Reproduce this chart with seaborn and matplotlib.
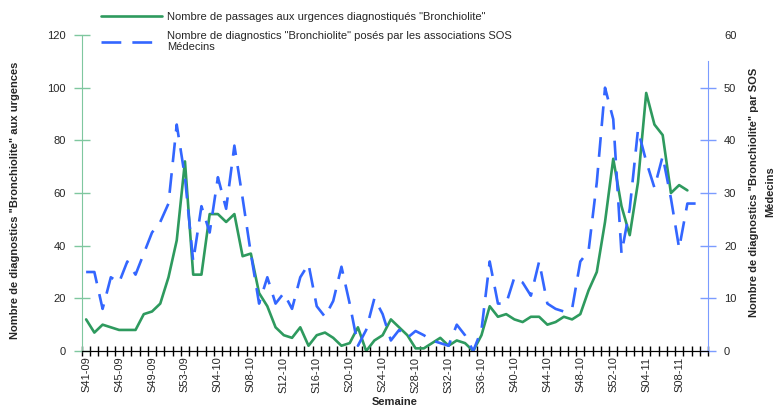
import matplotlib
matplotlib.use('Agg')
import matplotlib.pyplot as plt
import seaborn as sns
from matplotlib.lines import Line2D
from matplotlib.ticker import FixedLocator

# week categories: S41-09 .. S11-11
weeks = ([f'S{w:02d}-09' for w in range(41, 54)] +
         [f'S{w:02d}-10' for w in range(1, 53)] +
         [f'S{w:02d}-11' for w in range(1, 12)])

tick_labels = ['S41-09', 'S45-09', 'S49-09', 'S53-09', 'S04-10', 'S08-10', 'S12-10',
               'S16-10', 'S20-10', 'S24-10', 'S28-10', 'S32-10', 'S36-10', 'S40-10',
               'S44-10', 'S48-10', 'S52-10', 'S04-11', 'S08-11']

# passages aux urgences (left axis)
urgences = [12, 7, 10, 9, 8, 8, 8, 14, 15, 18, 28, 42, 72, 29, 29, 52, 52, 49, 52, 36,
            37, 22, 17, 9, 6, 5, 9, 2, 6, 7, 5, 2, 3, 9, 0, 4, 6, 12, 9, 6,
            1, 1, 3, 5, 2, 4, 3, 0, 6, 17, 13, 14, 12, 11, 13, 13, 10, 11, 13, 12,
            14, 23, 30, 49, 73, 55, 44, 64, 98, 86, 82, 60, 63, 61]

# diagnostics SOS Medecins (right axis)
sos = [15, 15, 8, 14, 13, 17, 14.5, 18.5, 22.5, 24.5, 28, 43, 33, 17, 27.5, 22.5, 33, 27, 39, 29,
       18.5, 9, 14, 9, 11, 8, 14, 16.5, 8.5, 6.5, 9.5, 16, 9, 1, 4, 10, 7, 2, 4, 2.5,
       3.8, 3, 2, 1.5, 1, 5, 3, 0, 4, 17, 9, 9, 14, 13, 10.5, 17, 9, 8, 7.5, 8,
       17, 19, 32, 50, 44, 18.5, 27, 42, 36, 31, 37, 29, 19.5, 28, 28]

green = '#2e9a5e'
blue = '#3366ff'

sns.set_style('white')
plt.rcParams['font.family'] = ['Liberation Sans', 'DejaVu Sans']

fig = plt.figure(figsize=(7.81, 4.09), dpi=100)
ax = fig.add_axes([0.105, 0.1418, 0.8015, 0.7726])
ax2 = ax.twinx()

sns.lineplot(x=list(range(len(urgences))), y=urgences, ax=ax, color=green, linewidth=1.9)
sns.lineplot(x=list(range(len(sos))), y=sos, ax=ax2, color=blue, linewidth=1.9,
             linestyle=(0, (7.5, 4.2)))

ax.set_xlim(-0.5, len(weeks) - 0.5)
ax.set_ylim(0, 120)
ax2.set_ylim(0, 60)

# x axis: ticks between categories, labels every 4 weeks
ax.xaxis.set_major_locator(FixedLocator([weeks.index(t) for t in tick_labels]))
ax.set_xticklabels(tick_labels, rotation=90, fontsize=8, va='top', ha='center')
ax.xaxis.set_minor_locator(FixedLocator([i - 0.5 for i in range(len(weeks) + 1)]))
ax.tick_params(axis='x', which='both', bottom=True)
ax.tick_params(axis='x', which='major', length=0, pad=4)
ax.tick_params(axis='x', which='minor', direction='inout', length=7, width=1, color='black')

ax.set_yticks(range(0, 121, 20))
ax.tick_params(axis='y', left=True, direction='inout', length=11, width=1, color='#7fc79f',
               labelsize=8, pad=6)
ax2.set_yticks(range(0, 61, 10))
ax2.tick_params(axis='y', right=True, direction='inout', length=11, width=1, color='#7b9cff',
                labelsize=8, pad=6)
ax2.yaxis.get_major_ticks()[-1].tick2line.set_visible(False)

for a in (ax, ax2):
    a.spines['top'].set_visible(False)
    a.set_xlabel('')
    a.set_ylabel('')
ax.spines['right'].set_visible(False)
ax2.spines['left'].set_visible(False)
ax.spines['left'].set_color('#7fc79f')
ax.spines['bottom'].set_color('black')
ax2.spines['bottom'].set_color('black')
ax2.spines['right'].set_color('#7b9cff')
ax2.spines['right'].set_bounds(0, 55)

fig.text(15 / 781, 1 - 200 / 409, 'Nombre de diagnostics "Bronchiolite" aux urgences',
         rotation=90, ha='center', va='center', fontsize=8, fontweight='bold')
fig.text(762 / 781, 1 - 192 / 409, 'Nombre de diagnostics "Bronchiolite" par SOS\nMédecins',
         rotation=90, ha='center', va='center', fontsize=8, fontweight='bold',
         multialignment='center', linespacing=1.8)
fig.text(395 / 781, 1 - 397 / 409, 'Semaine', ha='center', va='top',
         fontsize=8, fontweight='bold')

handles = [Line2D([], [], color=green, linewidth=1.9),
           Line2D([], [], color=blue, linewidth=1.9, linestyle=(0, (7.5, 4.2)))]
labels = ['Nombre de passages aux urgences diagnostiqués "Bronchiolite"',
          'Nombre de diagnostics "Bronchiolite" posés par les associations SOS\nMédecins']
fig.legend(handles, labels, loc='upper left', bbox_to_anchor=(93 / 781, 1 - 4 / 409),
           frameon=False, fontsize=8, handlelength=5.5, handletextpad=0.5,
           labelspacing=0.8, borderpad=0.2)

fig.savefig('out.png', dpi=100)
